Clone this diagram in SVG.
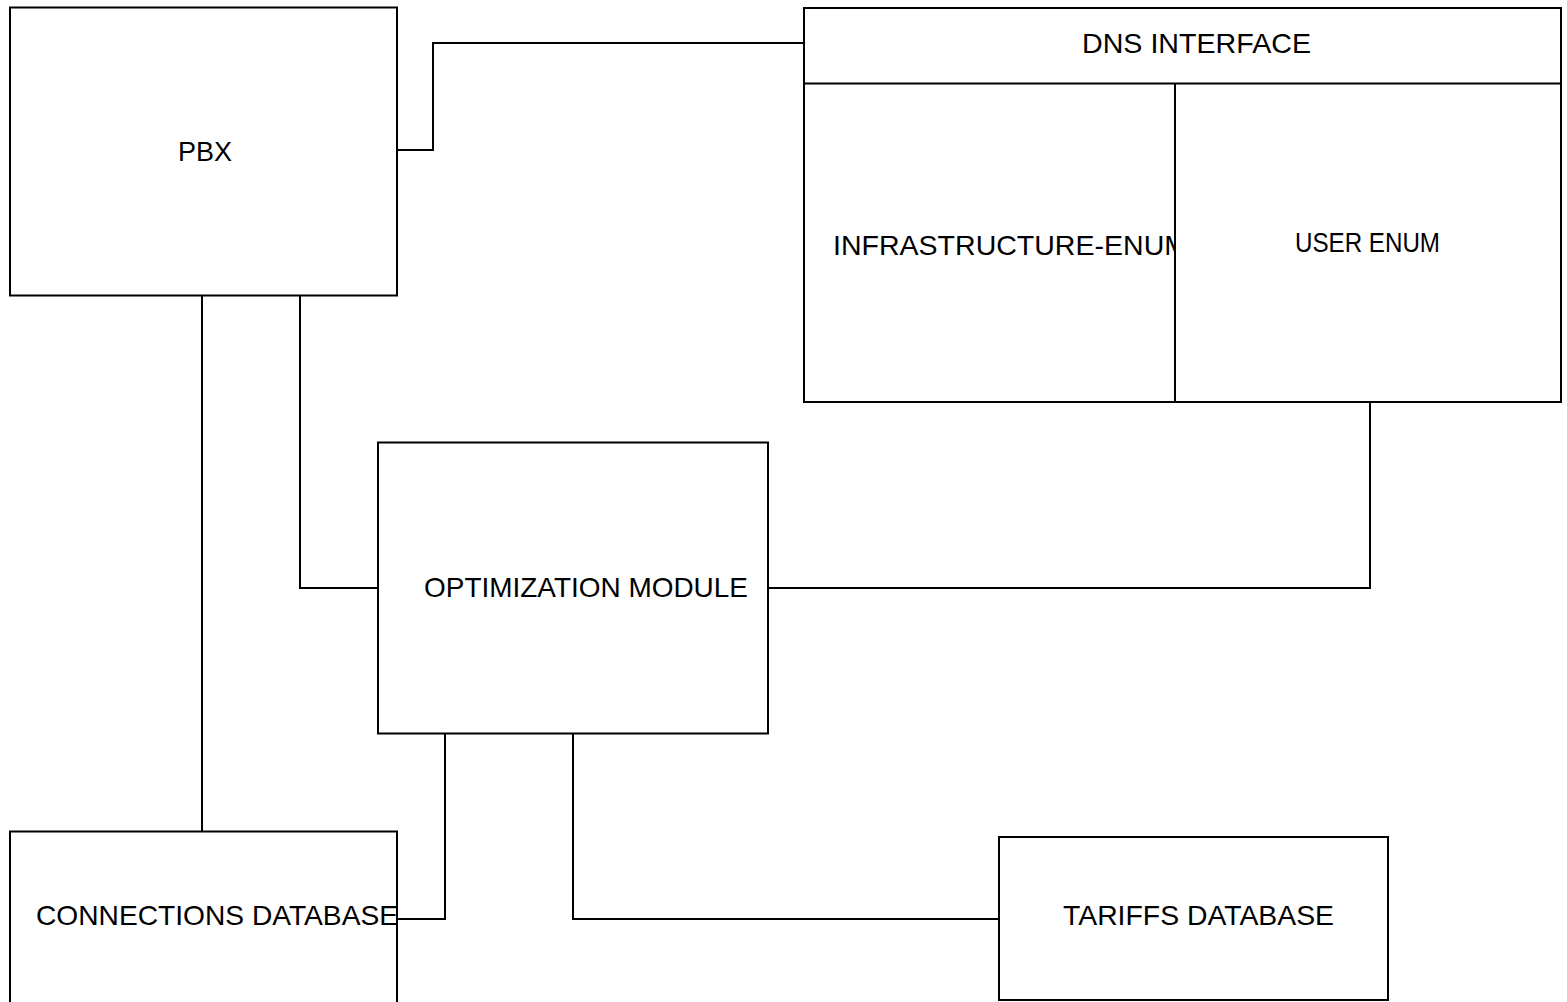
<svg xmlns="http://www.w3.org/2000/svg" width="1567" height="1002" viewBox="0 0 1567 1002">
<style>
.box{fill:#fff;stroke:#000;stroke-width:2}
.ln{fill:none;stroke:#000;stroke-width:2}
.t{font-family:"Liberation Sans",Arial,sans-serif;font-size:28px;fill:#000}
</style>
<defs>
<clipPath id="clipInfra"><rect x="804" y="84" width="371" height="318"/></clipPath>
</defs>
<rect width="1567" height="1002" fill="#fff"/>
<g id="connectors">
<polyline class="ln" points="397,150 433,150 433,43 804,43"/>
<line class="ln" x1="202" y1="296" x2="202" y2="831"/>
<polyline class="ln" points="300,296 300,588 378,588"/>
<polyline class="ln" points="768,588 1370,588 1370,402"/>
<polyline class="ln" points="445,734 445,919 397,919"/>
<polyline class="ln" points="573,734 573,919 999,919"/>
</g>
<g id="pbx">
<rect class="box" x="10" y="7.5" width="387" height="288"/>
<text class="t" x="178" y="161" textLength="54" lengthAdjust="spacingAndGlyphs">PBX</text>
</g>
<g id="dns">
<rect class="box" x="804" y="8" width="757" height="394"/>
<line class="ln" x1="804" y1="83.5" x2="1561" y2="83.5"/>
<text class="t" x="1082" y="53" textLength="229" lengthAdjust="spacingAndGlyphs">DNS INTERFACE</text>
<g id="infrastructure-enum">
<text class="t" x="833" y="255" textLength="355" lengthAdjust="spacingAndGlyphs" clip-path="url(#clipInfra)">INFRASTRUCTURE-ENUM</text>
</g>
<g id="user-enum">
<line class="ln" x1="1175" y1="83.5" x2="1175" y2="402"/>
<text class="t" x="1295" y="252" textLength="145" lengthAdjust="spacingAndGlyphs">USER ENUM</text>
</g>
</g>
<g id="optimization-module">
<rect class="box" x="378" y="442.5" width="390" height="291"/>
<text class="t" x="424" y="597" textLength="324" lengthAdjust="spacingAndGlyphs">OPTIMIZATION MODULE</text>
</g>
<g id="connections-database">
<rect class="box" x="10" y="831.5" width="387" height="180"/>
<text class="t" x="36" y="925" textLength="362" lengthAdjust="spacingAndGlyphs">CONNECTIONS DATABASE</text>
</g>
<g id="tariffs-database">
<rect class="box" x="999" y="837" width="389" height="163"/>
<text class="t" x="1063" y="925" textLength="271" lengthAdjust="spacingAndGlyphs">TARIFFS DATABASE</text>
</g>
</svg>
